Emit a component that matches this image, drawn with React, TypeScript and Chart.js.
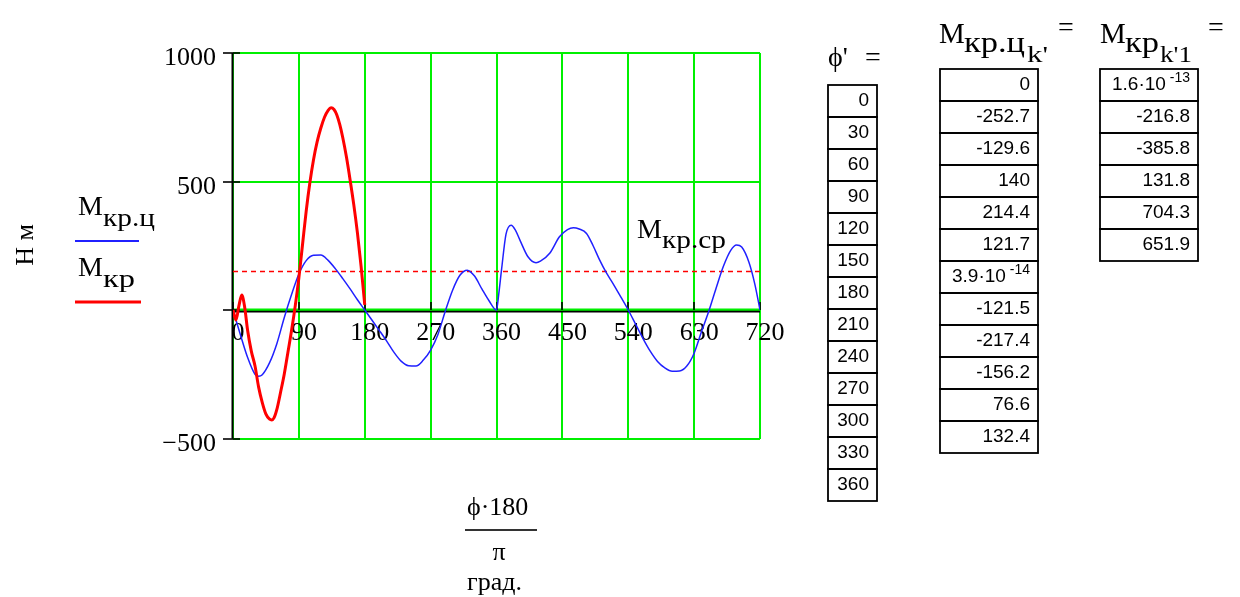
import React, { useEffect, useRef } from "react";
import { Chart, registerables } from "chart.js";

Chart.register(...registerables);

// ---- data ----
const bluePhi = [
  0, 10, 20, 30, 35, 40, 50, 60, 70, 80, 90, 100, 110, 120, 130, 140, 150, 160, 170, 180,
  190, 200, 210, 220, 230, 240, 250, 260, 270, 280, 290, 300, 310, 320, 330, 340, 350, 360,
  363, 367, 373, 380, 386, 392, 403, 414, 420, 433, 446, 457, 465, 473, 483, 492, 501, 510,
  519, 530, 540, 550, 560, 570, 580, 590, 600, 610, 620, 630, 640, 650, 660, 670, 680, 688,
  695, 705, 713, 720,
];
const blueM = [
  0, -95, -185, -250, -258, -252, -205, -130, -30, 60, 140, 192, 213, 214, 193, 160, 122, 82, 40, 0,
  -40, -80, -121, -165, -200, -217, -218, -195, -156, -95, -5, 77, 135, 155, 132, 82, 35, 0,
  60, 160, 295, 330, 310, 272, 207, 184, 190, 222, 285, 313, 320, 315, 298, 250, 194, 145,
  104, 50, 0, -55, -110, -160, -200, -225, -238, -237, -218, -168, -85, -5, 85, 170, 232, 253,
  245, 185, 100, 0,
];
const redPhi = [
  0, 4, 8, 12, 16, 20, 25, 30, 35, 40, 45, 50, 53, 56, 60, 65, 70, 75, 80, 85, 90, 95, 100,
  105, 110, 115, 120, 125, 130, 134, 138, 142, 146, 150, 155, 160, 165, 170, 175, 180,
];
const redM = [
  0, -39, 15, 58, 10, -80, -160, -217, -300, -360, -405, -425, -428, -420, -386, -320, -250,
  -165, -80, 15, 125, 255, 385, 495, 585, 655, 708, 750, 777, 787, 780, 758, 720, 670, 595,
  506, 410, 300, 170, 20,
];
const meanM = 150;

const xTickValues = [0, 90, 180, 270, 360, 450, 540, 630, 720];
const xTickLabels = ["0", "90", "180", "270", "360", "450", "540", "630", "720"];
const yTickValues = [1000, 500, 0, -500];
const yTickLabels = ["1000", "500", "", "\u2212500"];

const phiTable = ["0", "30", "60", "90", "120", "150", "180", "210", "240", "270", "300", "330", "360"];
const mkrcTable = ["0", "-252.7", "-129.6", "140", "214.4", "121.7", "3.9e-14", "-121.5", "-217.4", "-156.2", "76.6", "132.4"];
const mkrTable = ["1.6e-13", "-216.8", "-385.8", "131.8", "704.3", "651.9"];

const SERIF = "'Liberation Serif', 'Times New Roman', serif";
const SANS = "'Liberation Sans', Arial, sans-serif";

const axesPlugin = {
  id: "mathcadAxes",
  beforeDatasetsDraw(chart: any) {
    const { ctx, chartArea, scales } = chart;
    const xs = scales.x;
    const ys = scales.y;
    const x0 = xs.getPixelForValue(0);
    const y0 = ys.getPixelForValue(0);
    ctx.save();
    // zero line: black under green
    ctx.strokeStyle = "#000";
    ctx.lineWidth = 2;
    ctx.beginPath();
    ctx.moveTo(chartArea.left, y0 + 1.5);
    ctx.lineTo(chartArea.right, y0 + 1.5);
    ctx.stroke();
    ctx.strokeStyle = "#00f000";
    ctx.lineWidth = 2;
    ctx.beginPath();
    ctx.moveTo(chartArea.left, y0 - 0.5);
    ctx.lineTo(chartArea.right, y0 - 0.5);
    ctx.stroke();
    // y axis
    ctx.strokeStyle = "#000";
    ctx.lineWidth = 2;
    ctx.beginPath();
    ctx.moveTo(x0 - 0.5, chartArea.top);
    ctx.lineTo(x0 - 0.5, chartArea.bottom);
    ctx.stroke();
    // y ticks
    ctx.lineWidth = 1.6;
    yTickValues.forEach((v) => {
      const py = Math.round(ys.getPixelForValue(v));
      ctx.beginPath();
      ctx.moveTo(x0 - 10, py);
      ctx.lineTo(x0 + 7, py);
      ctx.stroke();
    });
    // x ticks
    xTickValues.forEach((v) => {
      const px = Math.round(xs.getPixelForValue(v));
      ctx.beginPath();
      ctx.moveTo(px, y0 - 8);
      ctx.lineTo(px, y0);
      ctx.stroke();
    });
    // labels
    ctx.fillStyle = "#000";
    ctx.font = `26px ${SERIF}`;
    ctx.textBaseline = "alphabetic";
    ctx.textAlign = "center";
    xTickValues.forEach((v, i) => {
      const px = xs.getPixelForValue(v);
      ctx.fillText(xTickLabels[i], px + 5, y0 + 30);
    });
    ctx.textAlign = "right";
    yTickValues.forEach((v, i) => {
      if (!yTickLabels[i]) return;
      const py = ys.getPixelForValue(v);
      ctx.fillText(yTickLabels[i], x0 - 17, py + 12);
    });
    ctx.restore();
  },
};

function Cell({ x, baseline, value }: { x: number; baseline: number; value: string }) {
  if (value.includes("e")) {
    const [m, e] = value.split("e");
    return (
      <text x={x} y={baseline} textAnchor="end" fontFamily={SANS} fontSize={19} fill="#000">
        <tspan>{m}·10</tspan>
        <tspan fontSize={14} dy={-8}>{" " + e}</tspan>
      </text>
    );
  }
  return (
    <text x={x} y={baseline} textAnchor="end" fontFamily={SANS} fontSize={19} fill="#000">
      {value}
    </text>
  );
}

function Table({ x, y, w, rows, rowH = 32 }: { x: number; y: number; w: number; rows: string[]; rowH?: number }) {
  return (
    <g>
      {rows.map((r, i) => (
        <g key={i}>
          <rect x={x} y={y + i * rowH} width={w} height={rowH} fill="none" stroke="#000" strokeWidth={1.8} />
          <Cell x={x + w - 8} baseline={y + i * rowH + 21} value={r} />
        </g>
      ))}
    </g>
  );
}

function Sub({ x, y, size, len, children }: { x: number; y: number; size: number; len: number; children: string }) {
  return (
    <text x={x} y={y} fontSize={size} fill="#000" textLength={len} lengthAdjust="spacingAndGlyphs">
      {children}
    </text>
  );
}

export default function App() {
  const canvasRef = useRef<HTMLCanvasElement | null>(null);

  useEffect(() => {
    if (!canvasRef.current) return;
    const chart = new Chart(canvasRef.current, {
      type: "line",
      data: {
        datasets: [
          {
            label: "Мкр",
            data: redPhi.map((p, i) => ({ x: p, y: redM[i] })),
            borderColor: "#ff0000",
            borderWidth: 3,
            pointRadius: 0,
            cubicInterpolationMode: "monotone",
            fill: false,
          },
          {
            label: "Мкр.ц",
            data: bluePhi.map((p, i) => ({ x: p, y: blueM[i] })),
            borderColor: "#2020ff",
            borderWidth: 1.5,
            pointRadius: 0,
            cubicInterpolationMode: "monotone",
            fill: false,
          },
          {
            label: "Мкр.ср",
            data: [
              { x: xTickValues[0], y: meanM },
              { x: xTickValues[xTickValues.length - 1], y: meanM },
            ],
            borderColor: "#ff0000",
            borderWidth: 1.5,
            borderDash: [5, 4],
            pointRadius: 0,
            fill: false,
          },
        ],
      },
      options: {
        animation: false,
        responsive: false,
        devicePixelRatio: 1,
        layout: { padding: { left: 233, right: 480, top: 53, bottom: 158.5 } },
        plugins: { legend: { display: false }, tooltip: { enabled: false } },
        scales: {
          x: {
            type: "linear",
            min: 0,
            max: 720,
            ticks: { display: false, stepSize: 90 },
            grid: { color: "#00f000", lineWidth: 2, drawTicks: false },
            border: { display: false },
          },
          y: {
            type: "linear",
            min: -500,
            max: 1000,
            ticks: { display: false, stepSize: 500 },
            grid: { color: "#00f000", lineWidth: 2, drawTicks: false },
            border: { display: false },
          },
        },
      },
      plugins: [axesPlugin],
    } as any);
    return () => chart.destroy();
  }, []);

  return (
    <div style={{ position: "absolute", left: 0, top: 0, width: 1240, height: 597, background: "#fff" }}>
      <canvas ref={canvasRef} width={1240} height={597} style={{ position: "absolute", left: 0, top: 0 }} />
      <svg
        width={1240}
        height={597}
        style={{ position: "absolute", left: 0, top: 0, pointerEvents: "none" }}
        fontFamily={SERIF}
      >
        {/* y unit */}
        <text transform="translate(33,245) rotate(-90)" textAnchor="middle" fontSize={26} fill="#000">
          Н м
        </text>
        {/* legend */}
        <text x={78} y={215} fontSize={28} fill="#000">М</text>
        <Sub x={103} y={226} size={26} len={52}>кр.ц</Sub>
        <line x1={75} y1={241} x2={139} y2={241} stroke="#2020ff" strokeWidth={2} />
        <text x={78} y={276} fontSize={28} fill="#000">М</text>
        <Sub x={103} y={287} size={26} len={32}>кр</Sub>
        <line x1={75} y1={302} x2={141} y2={302} stroke="#ff0000" strokeWidth={3} />
        {/* mean label */}
        <text x={637} y={238} fontSize={28} fill="#000">М</text>
        <Sub x={662} y={248} size={26} len={64}>кр.ср</Sub>
        {/* x title */}
        <text x={467} y={515} fontSize={26} fill="#000">ϕ·180</text>
        <line x1={465} y1={530} x2={537} y2={530} stroke="#333" strokeWidth={2} />
        <text x={499} y={560} textAnchor="middle" fontSize={26} fill="#000">π</text>
        <text x={467} y={590} fontSize={26} fill="#000">град.</text>
        {/* table headers */}
        <text x={828} y={66} fontSize={28} fill="#000">ϕ'</text>
        <text x={865} y={66} fontSize={28} fill="#000">=</text>
        <text x={939} y={43} fontSize={29} fill="#000">М</text>
        <Sub x={964} y={52} size={29} len={61}>кр.ц</Sub>
        <Sub x={1027} y={62} size={24} len={21}>k'</Sub>
        <text x={1058} y={36} fontSize={28} fill="#000">=</text>
        <text x={1100} y={43} fontSize={29} fill="#000">М</text>
        <Sub x={1125} y={52} size={29} len={34}>кр</Sub>
        <Sub x={1160} y={62} size={24} len={32}>k'1</Sub>
        <text x={1208} y={36} fontSize={28} fill="#000">=</text>
        {/* tables */}
        <Table x={828} y={85} w={49} rows={phiTable} />
        <Table x={940} y={69} w={98} rows={mkrcTable} />
        <Table x={1100} y={69} w={98} rows={mkrTable} />
      </svg>
    </div>
  );
}
